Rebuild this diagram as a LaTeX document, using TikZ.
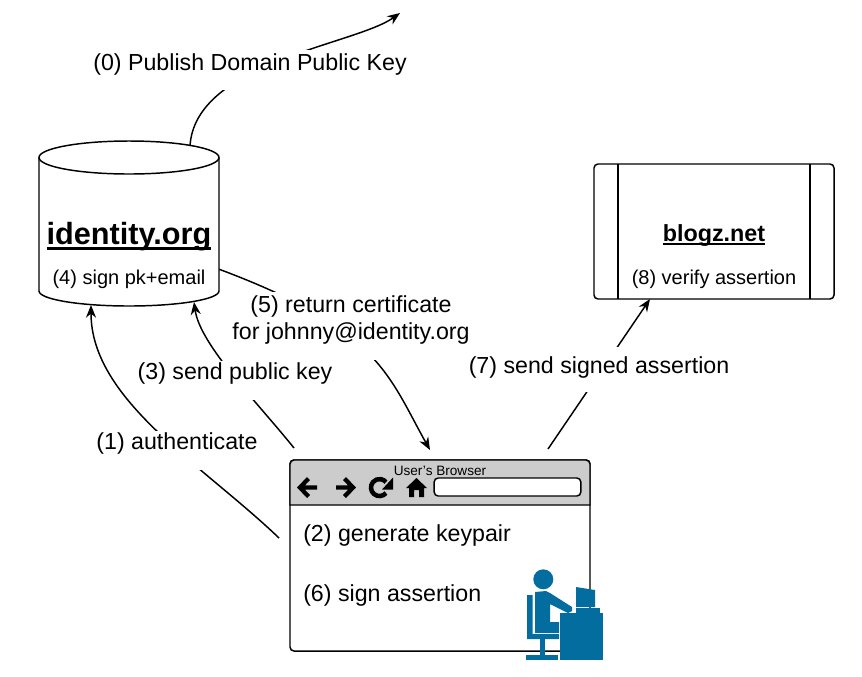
\documentclass[tikz,border=0pt]{standalone}
\usepackage{fontspec}
\setmainfont{Liberation Sans}
\usetikzlibrary{arrows.meta}
\definecolor{userblue}{HTML}{046DA0}
\definecolor{chrome}{HTML}{CCCCCC}
\newcommand{\lblsize}{\fontsize{17.4pt}{20.25pt}\selectfont}
\newcommand{\ulbold}[1]{\leavevmode\setbox0\hbox{#1}\rlap{\rule[-0.19em]{\wd0}{0.1em}}\box0}
\tikzset{
  x=0.75pt,y=-0.75pt,
  conn/.style={line width=1.1pt,black,-{Stealth[length=9.5pt,width=7.5pt]}},
  plain/.style={line width=1.1pt,black},
  lbl/.style={font=\lblsize,fill=white,inner sep=0pt,anchor=base},
  person/.style={fill=userblue,draw=none},
  btn/.style={fill=black,draw=none}
}
\begin{document}
\begin{tikzpicture}
\useasboundingbox (0,0) rectangle (862,676);
% endpoints of the connectors
\coordinate (p0a) at (190,146);
\coordinate (p0b) at (400,13);
\coordinate (p1a) at (279,538);
\coordinate (p1b) at (91,305);
\coordinate (p3a) at (294,448);
\coordinate (p3b) at (194,302);
\coordinate (p5a) at (219.3,269.3);
\coordinate (p5b) at (430,450);
\coordinate (p7a) at (548,449);
\coordinate (p7b) at (650,299);
% identity.org
\draw[plain,fill=white] (39,157.5) -- (39,291) arc[start angle=180,end angle=0,x radius=90,y radius=15] -- (219,157.5);
\draw[plain,fill=white] (129,157.5) ellipse[x radius=90,y radius=16.5];
\node[font=\fontsize{23pt}{27pt}\selectfont\bfseries,anchor=base,inner sep=0pt] (idname) at (129,244) {\ulbold{identity.org}};
\node[font=\fontsize{15pt}{18pt}\selectfont,anchor=base,inner sep=0pt] (idsign) at (129,284) {(4) sign pk+email};
% connectors
\draw[conn] (p0a) .. controls (195,62) and (355,45) .. (p0b);
\draw[conn] (p1a) .. controls (203,465) and (91,400) .. (p1b);
\draw[conn] (p3a) .. controls (258,403) and (200,345) .. (p3b);
\draw[conn] (p5a) .. controls (379,329) and (388,375) .. (p5b);
\draw[conn] (p7a) -- (p7b);
% blogz.net
\node[draw,line width=1.1pt,rounded corners=3pt,fill=white,minimum width=180pt,minimum height=101.25pt,inner sep=0pt] (rp) at (714,231.5) {};
\draw[plain] (618,164) -- (618,299);
\draw[plain] (810,164) -- (810,299);
\node[font=\fontsize{17.5pt}{21pt}\selectfont\bfseries,anchor=base,inner sep=0pt] (rpname) at (714,241) {\ulbold{blogz.net}};
\node[font=\fontsize{15pt}{18pt}\selectfont,anchor=base,inner sep=0pt] (rpver) at (714,284) {(8) verify assertion};
% browser
\node[draw,line width=1.1pt,rounded corners=3pt,fill=white,minimum width=225pt,minimum height=143.25pt,inner sep=0pt] (browser) at (440,555.5) {};
\draw[plain,fill=chrome,sharp corners] (290,505) [rounded corners=3pt] -- (290,460) -- (590,460) [sharp corners] -- (590,505) -- cycle;
\node[font=\fontsize{10.2pt}{12pt}\selectfont,anchor=base,inner sep=0pt] (btitle) at (440,475) {User's Browser};
\node[draw,line width=1.1pt,rounded corners=3pt,fill=white,minimum width=110pt,minimum height=13.5pt,inner sep=0pt] (addr) at (507.5,487) {};
% back / forward
\fill[btn] (317,485.3) -- (305,485.3) -- (310,480) -- (307,477) -- (297,487.5) -- (307,498) -- (310,495) -- (305,489.7) -- (317,489.7) -- cycle;
\fill[btn] (336,485.3) -- (348,485.3) -- (343,480) -- (346,477) -- (356,487.5) -- (346,498) -- (343,495) -- (348,489.7) -- (336,489.7) -- cycle;
% reload
\draw[line width=3.4pt,black] (386,493) arc[start angle=40,end angle=320,radius=8.5];
\fill[btn] (393,477.5) -- (393,489.5) -- (382,489.5) -- cycle;
% home
\fill[btn] (416.5,478) -- (427,488) -- (424,488) -- (424,497) -- (419,497) -- (419,490) -- (414,490) -- (414,497) -- (409,497) -- (409,488) -- (406,488) -- cycle;
% browser text
\node[font=\lblsize,anchor=base west,inner sep=0pt] (gen) at (303,541) {(2) generate keypair};
\node[font=\lblsize,anchor=base west,inner sep=0pt] (sign) at (303,601) {(6) sign assertion};
% user figure
\fill[person] (543.3,579.3) circle[radius=10];
\fill[person] (535,592) -- (546,591) -- (550,593) -- (572,607) -- (572,611) -- (568,613) -- (550,604) -- (550,622) -- (559,622) -- (559,633) -- (535,633) -- cycle;
\fill[person] (527,595) -- (532.5,595) -- (532.5,634) -- (559,634) -- (559,639) -- (527,639) -- cycle;
\fill[person] (540,639) rectangle (544.5,655);
\fill[person] (526,655) rectangle (558,660);
\fill[person] (560,613) rectangle (603,660);
\fill[person] (576,587) -- (595,590) -- (595,607) -- (576,607) -- cycle;
\fill[person] (576,608) rectangle (600,613);
% connector labels
\node[lbl,text height=15pt,text depth=15pt] (l0) at (250,70) {(0) Publish Domain Public Key};
\node[lbl,text height=13.5pt,text depth=15.75pt] (l1) at (177,449) {(1) authenticate};
\node[lbl,text height=13.5pt,text depth=15.75pt] (l3) at (235,379) {(3) send public key};
\node[lbl,text height=19.5pt,text depth=14.25pt] (l7) at (599,373) {(7) send signed assertion};
\node[lbl,align=center,text height=35.25pt,text depth=15.75pt] (l5) at (351,339) {(5) return certificate\\for johnny@identity.org};
\end{tikzpicture}
\end{document}
